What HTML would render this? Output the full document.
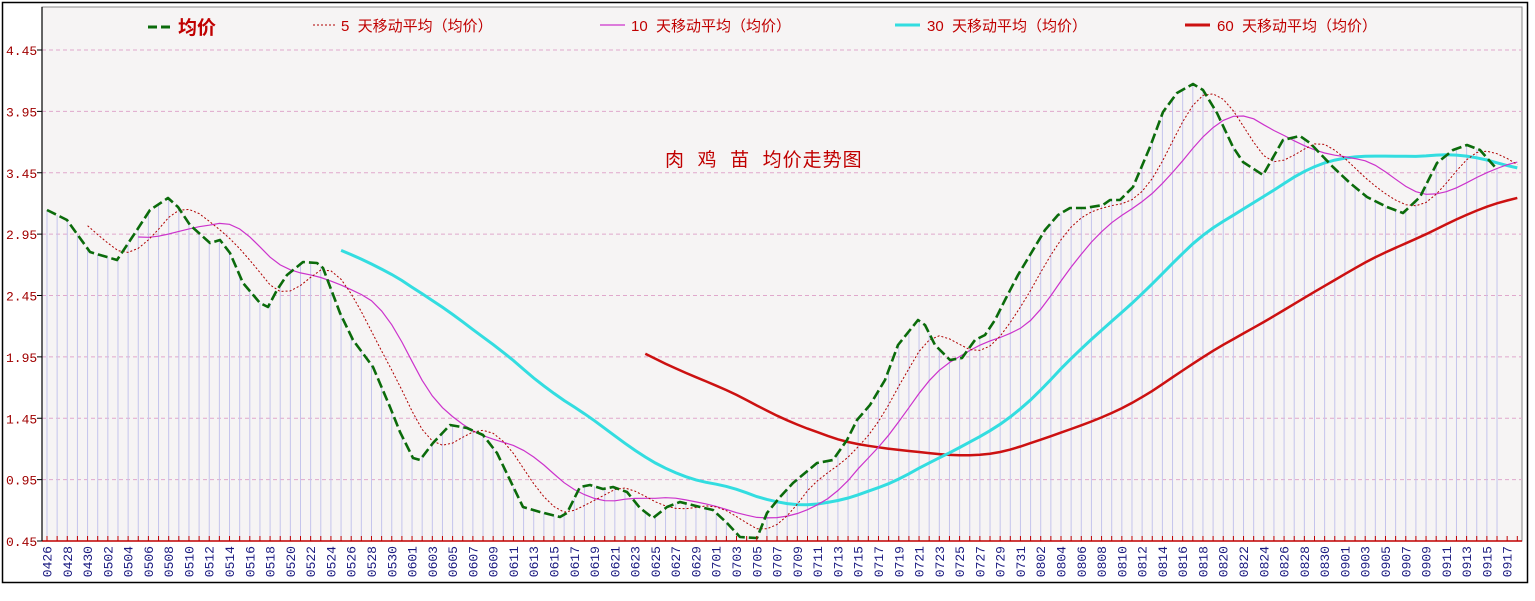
<!DOCTYPE html>
<html><head><meta charset="utf-8"><style>
html,body{margin:0;padding:0;background:#fff;width:1535px;height:601px;overflow:hidden}
svg{display:block}
</style></head><body>
<svg id="s" width="1535" height="601" xmlns="http://www.w3.org/2000/svg" font-family="Liberation Sans, Noto Sans CJK SC, sans-serif">
<rect x="2.5" y="2.5" width="1525" height="580" fill="#fff" stroke="#000" stroke-width="1.5"/>
<rect x="42" y="7" width="1480" height="534" fill="#f6f4f4" stroke="#888" stroke-width="1"/>
<g id="grid"></g><g id="bars"></g><g id="lines"></g><g id="axes"></g>
<text x="665" y="166" font-size="19" fill="#c00000" xml:space="preserve" font-family="Liberation Sans, Noto Sans CJK SC, sans-serif" letter-spacing="1">肉  鸡  苗  均价走势图</text>
<g font-family="Liberation Sans, Noto Sans CJK SC, sans-serif">
<line x1="148" y1="27" x2="173" y2="27" stroke="#0b6b0b" stroke-width="3" stroke-dasharray="9,4"/>
<text x="178" y="34" font-size="19" font-weight="bold" fill="#c00000">均价</text>
<line x1="313" y1="25" x2="335" y2="25" stroke="#b00000" stroke-width="1" stroke-dasharray="2,2"/>
<text x="341" y="31" font-size="15" fill="#c00000" xml:space="preserve">5  天移动平均（均价）</text>
<line x1="600" y1="25" x2="625" y2="25" stroke="#cc33cc" stroke-width="1.2"/>
<text x="631" y="31" font-size="15" fill="#c00000" xml:space="preserve">10  天移动平均（均价）</text>
<line x1="895" y1="25" x2="920" y2="25" stroke="#33dde0" stroke-width="3"/>
<text x="927" y="31" font-size="15" fill="#c00000" xml:space="preserve">30  天移动平均（均价）</text>
<line x1="1185" y1="25" x2="1210" y2="25" stroke="#cc1111" stroke-width="3"/>
<text x="1217" y="31" font-size="15" fill="#c00000" xml:space="preserve">60  天移动平均（均价）</text>
</g>
</svg>
<script>
var NS="http://www.w3.org/2000/svg";
function el(p,t,a,txt){var e=document.createElementNS(NS,t);for(var k in a)e.setAttribute(k,a[k]);if(txt!=null)e.textContent=txt;document.getElementById(p).appendChild(e);return e;}
var labs=["4.45","3.95","3.45","2.95","2.45","1.95","1.45","0.95","0.45"];
for(var i=0;i<9;i++){var y=50+i*61.375;
 if(i<8)el("grid","line",{x1:42,x2:1522,y1:y,y2:y,stroke:"#e0a8cc","stroke-width":1,"stroke-dasharray":"4,3"});
 el("axes","line",{x1:37,x2:42,y1:y,y2:y,stroke:"#000"});
 el("axes","text",{x:6,y:y+5,"font-size":13,fill:"#a00000","font-family":"Liberation Mono, monospace"},labs[i]);
}
var P=[[47,210],[67,220],[90,252],[117,260],[137,230],[150,210],[168,198],[178,207],[190,225],[210,243],[220,240],[230,253],[243,283],[260,303],[268,307],[277,290],[287,275],[303,262],[317,263],[323,268],[340,313],[353,340],[373,367],[390,407],[400,432],[413,458],[420,460],[433,443],[450,425],[467,428],[483,435],[497,453],[510,480],[523,507],[540,512],[560,517],[567,513],[580,487],[590,485],[603,489],[613,487],[627,492],[640,508],[653,518],[667,507],[680,502],[700,507],[713,510],[727,523],[740,537],[757,538],[767,513],[780,497],[793,483],[817,463],[833,460],[847,440],[857,420],[870,405],[885,380],[898,345],[910,330],[918,320],[925,325],[935,345],[950,360],[962,358],[975,340],[985,335],[995,320],[1005,300],[1018,275],[1030,255],[1045,230],[1058,215],[1070,208],[1085,208],[1103,205],[1110,200],[1120,200],[1133,187],[1150,147],[1163,112],[1177,93],[1193,84],[1203,90],[1217,113],[1233,147],[1243,162],[1263,175],[1283,140],[1300,136],[1310,143],[1333,167],[1350,183],[1367,197],[1387,207],[1403,213],[1420,197],[1437,163],[1453,150],[1467,145],[1480,150],[1495,167],[1505,172],[1520,176]];
function iy(x){for(var i=0;i<P.length-1;i++){if(x<=P[i+1][0]){var t=(x-P[i][0])/(P[i+1][0]-P[i][0]);return P[i][1]+t*(P[i+1][1]-P[i][1]);}}return P[P.length-1][1];}
var S=10.14,N=146,X=[],Y=[];
for(var d=0;d<N;d++){X.push(47+S*d);Y.push(iy(47+S*d));}
for(var d=0;d<N;d++){if(X[d]>1503)break;el("bars","line",{x1:X[d],x2:X[d],y1:541,y2:Y[d],stroke:"#c4c4ec","stroke-width":1});}
var md=[31,28,31,30,31,30,31,31,30,31,30,31],m=3,day=26;
for(var d=0;d<N;d++){
 el("axes","line",{x1:X[d],x2:X[d],y1:536,y2:541,stroke:"#c00000"});
 if(d%2==0&&X[d]<1515){var s=("0"+(m+1)).slice(-2)+("0"+day).slice(-2);
  el("axes","text",{x:0,y:0,"font-size":13,fill:"#1a1a80","font-family":"Liberation Mono, monospace","text-anchor":"end",transform:"translate("+(X[d]+4.5)+",546) rotate(-90)"},s);}
 day++;if(day>md[m]){day=1;m++;}
}
el("axes","line",{x1:42,x2:1522,y1:541,y2:541,stroke:"#c00000","stroke-width":1.5});
el("axes","line",{x1:42,x2:42,y1:7,y2:541,stroke:"#000","stroke-width":1.2});
function ma(n){var pts=[];for(var d=n-1;d<N;d++){var s=0;for(var k=0;k<n;k++)s+=Y[d-k];pts.push(X[d].toFixed(1)+","+(s/n).toFixed(1));}return pts.join(" ");}
el("lines","polyline",{points:ma(60),fill:"none",stroke:"#cc1111","stroke-width":2.5});
el("lines","polyline",{points:ma(30),fill:"none",stroke:"#33dde0","stroke-width":3});
el("lines","polyline",{points:ma(10),fill:"none",stroke:"#cc33cc","stroke-width":1.2});
el("lines","polyline",{points:ma(5),fill:"none",stroke:"#b00000","stroke-width":1,"stroke-dasharray":"2,2"});
var g=[];for(var i=0;i<P.length;i++){if(P[i][0]>1497)break;g.push(P[i].join(","));}
el("lines","polyline",{points:g.join(" "),fill:"none",stroke:"#0b6b0b","stroke-width":2.6,"stroke-dasharray":"10,4","stroke-linejoin":"round"});
</script>
</body></html>
